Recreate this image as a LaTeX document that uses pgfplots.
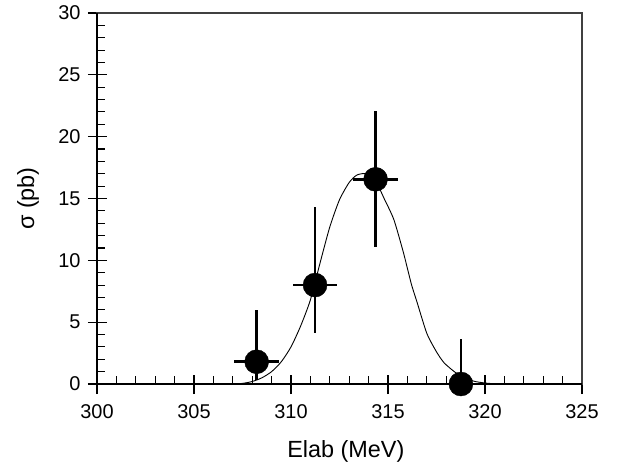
\documentclass[border=0pt]{standalone}
\usepackage{pgfplots}
\pgfplotsset{compat=1.18}
\usepackage{fontspec}
\setmainfont{Liberation Sans}
\begin{document}
\begin{tikzpicture}
\begin{axis}[
  at={(0,0)}, anchor=origin,
  scale only axis, width=485bp, height=371bp,
  xmin=300, xmax=325, ymin=0, ymax=30,
  xtick={300,305,...,325}, ytick={0,5,...,30},
  minor x tick num=4, minor y tick num=4,
  xtick pos=bottom, ytick pos=left,
  tick align=inside,
  major tick length=19bp, minor tick length=8bp,
  major x tick style={yshift=-10bp, line width=1.3bp, black},
  major y tick style={xshift=-9bp, line width=1.3bp, black},
  minor tick style={line width=1.1bp, black},
  axis line style={line width=1.3bp, black!75},
  /pgf/number format/assume math mode=true,
  ticklabel style={font=\fontsize{20}{23}\selectfont},
  xticklabel style={yshift=-17bp},
  yticklabel style={xshift=-13bp},
  xlabel={Elab (MeV)},
  ylabel={σ (pb)},
  every axis x label/.style={at={(axis description cs:0.513,-0.181)}, anchor=center, font=\fontsize{23.5}{27}\selectfont},
  every axis y label/.style={at={(axis description cs:-0.142,0.5)}, anchor=center, rotate=90, font=\fontsize{23.5}{27}\selectfont},
  clip=false,
]
\addplot[black, line width=0.9bp, smooth, tension=0.4] coordinates {
(307.0,0) (307.5,0.05) (308.0,0.2) (308.5,0.5) (309.0,1.0) (309.5,1.8)
(310.0,3.0) (310.5,4.7) (311.0,6.8) (311.5,9.8) (312.0,12.7) (312.5,14.9)
(313.0,16.3) (313.4,16.9) (313.9,17.0) (314.4,16.3) (314.8,15.0) (315.3,13.3)
(315.8,10.6) (316.2,8.1) (316.5,6.6) (317.0,4.1) (317.5,2.6) (317.9,1.7)
(318.5,0.9) (319.0,0.45) (319.5,0.2) (320.0,0.08) (320.5,0.02) (321.0,0)
};
\addplot[only marks, mark=*, mark size=12bp, black,
  error bars/.cd, x dir=both, x explicit, y dir=both, y explicit,
  error mark=none, error bar style={line width=2.6bp, black}]
coordinates {
(308.23,1.8) += (1.15,4.2) -= (1.15,1.5)
(311.24,8.0) += (1.13,6.3) -= (1.13,3.9)
(314.36,16.55) += (1.16,5.5) -= (1.16,5.5)
(318.76,0.0) += (1.1,3.6) -= (1.1,0)
};
\end{axis}
\draw[line width=2.4bp, black] (0,371bp) -- (0,0) -- (485bp,0);
\path[use as bounding box] (-97bp,-84bp) rectangle (520bp,384bp);
\end{tikzpicture}
\end{document}
